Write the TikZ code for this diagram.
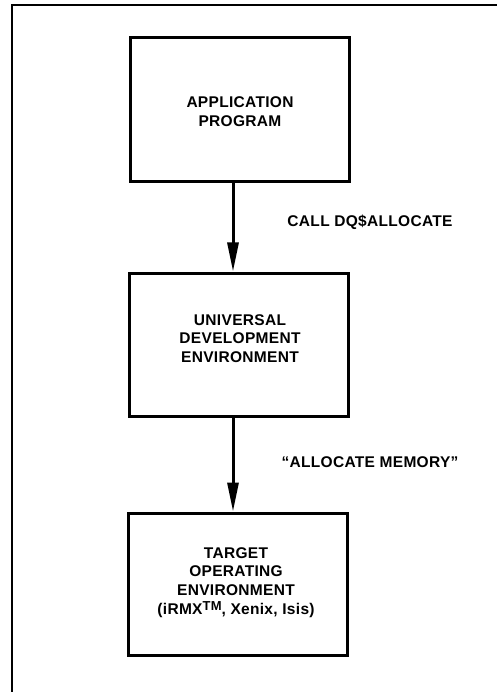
\documentclass[tikz,border=0pt]{standalone}
\usepackage{fontspec}
\setmainfont{Liberation Sans}[LetterSpace=2]
\usetikzlibrary{arrows.meta}
\tikzset{
  box/.style={draw, line width=3pt, minimum width=219pt, inner sep=0pt},
  txt/.style={font=\bfseries\fontsize{15.5}{18.8}\selectfont, align=center, inner sep=0pt},
  lab/.style={font=\bfseries\fontsize{15.5}{18.8}\selectfont, inner sep=0pt},
  arr/.style={line width=3pt, -{Triangle[length=29pt,width=11pt]}},
  frame/.style={line width=2.5pt}
}
\begin{document}
\begin{tikzpicture}[x=1pt,y=-1pt]
\useasboundingbox (0,0) rectangle (497,692);
\fill[white] (0,0) rectangle (497,692);
% outer frame
\coordinate (fa) at (12,692);
\coordinate (fb) at (12,5);
\coordinate (fc) at (497,5);
\draw[frame] (fa) -- (fb) -- (fc);
% boxes
\node[box, minimum height=144pt] (b1) at (239.5,110) {};
\node[txt] (t1) at (240,111.5) {APPLICATION\\PROGRAM};
\node[box, minimum height=143pt] (b2) at (239,344.5) {};
\node[txt] (t2) at (240,338.5) {UNIVERSAL\\DEVELOPMENT\\ENVIRONMENT};
\node[box, minimum height=142pt] (b3) at (237.5,584) {};
\node[txt] (t3) at (236,582.5) {TARGET\\OPERATING\\ENVIRONMENT\\(iRMX\raisebox{0.55ex}{\fontsize{13}{13}\selectfont TM}, Xenix, Isis)};
% arrows
\draw[arr] ([xshift=-6.5pt]b1.south) -- ([xshift=-6pt]b2.north);
\draw[arr] ([xshift=-6pt]b2.south) -- ([xshift=-4.5pt]b3.north);
% labels
\node[lab] (l1) at (370,222) {CALL DQ\$ALLOCATE};
\node[lab] (l2) at (370,462) {“ALLOCATE MEMORY”};
\end{tikzpicture}
\end{document}
